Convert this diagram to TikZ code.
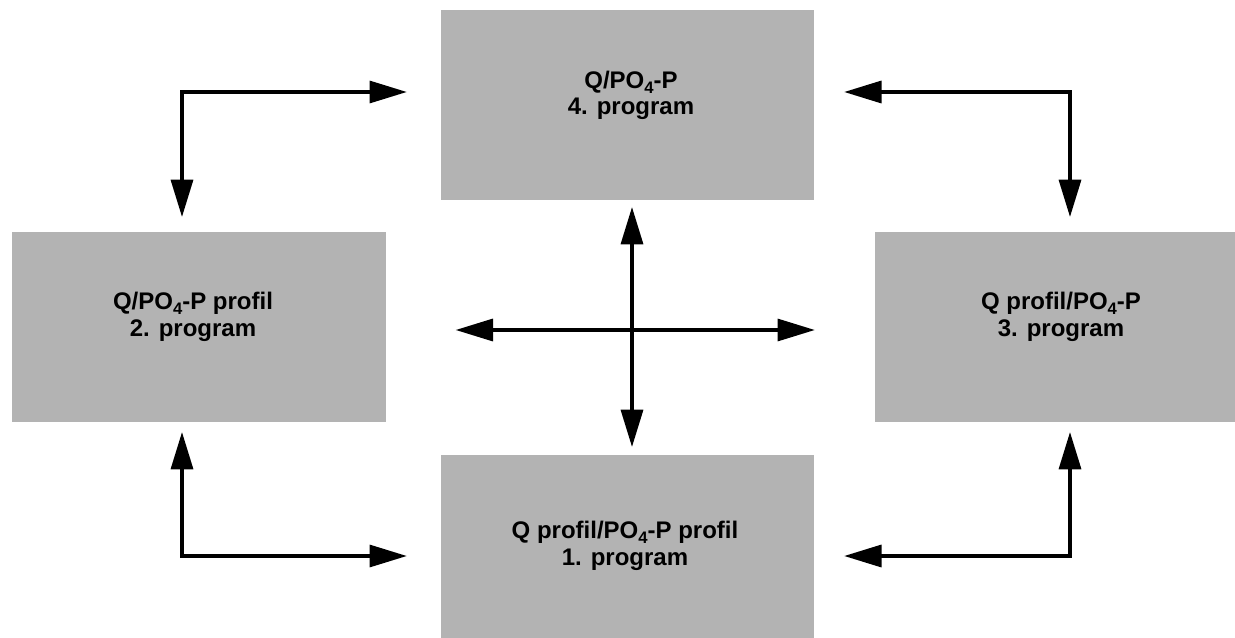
\documentclass[tikz,border=0pt]{standalone}
\usepackage{fontspec}
\setmainfont{Liberation Sans}
\usetikzlibrary{arrows.meta,calc}
\definecolor{boxgray}{RGB}{179,179,179}
% lowered subscript digit for PO4
\newcommand{\subfour}{\raisebox{-3.6pt}{\fontsize{12.5}{12.5}\selectfont 4}}
\begin{document}
\begin{tikzpicture}[x=0.75pt,y=-0.75pt,
  progbox/.style={fill=boxgray, draw=none, inner sep=0pt, outer sep=0pt,
    minimum width=280pt, minimum height=142.5pt},
  progtext/.style={anchor=base, align=center, inner sep=0pt,
    font=\bfseries\fontsize{18}{19.8}\selectfont},
  conn/.style={line width=2.5pt, >={Triangle[length=28pt,width=16.5pt]}, <->}]
\useasboundingbox (0,0) rectangle (1235,638);
\clip (0,0) rectangle (1235,638);

% program boxes
\node[progbox] (t) at (627.5,105) {};
\node[progbox] (l) at (199,327) {};
\node[progbox] (r) at (1061.5,327) {};
\node[progbox] (b) at (627.5,550) {};

% box captions (anchored on the baseline of the second line)
\node[progtext] (tt) at (631,115) {Q/PO\subfour-P\\4. program};
\node[progtext] (lt) at (193,336) {Q/PO\subfour-P profil\\2. program};
\node[progtext] (rt) at (1061,336) {Q profil/PO\subfour-P\\3. program};
\node[progtext] (bt) at (625,565) {Q profil/PO\subfour-P profil\\1. program};

% corner points of the elbow connectors and the centre of the cross
\coordinate (ctl) at (182,92);
\coordinate (ctr) at (1070,92);
\coordinate (cbl) at (182,556);
\coordinate (cbr) at (1070,556);
\coordinate (cx) at (632,330);

% elbow connectors
\draw[conn, shorten <=11.25pt, shorten >=25.5pt] (ctl |- l.north) -- (ctl) -- (ctl -| t.west);
\draw[conn, shorten <=22.5pt, shorten >=11.25pt] (ctr -| t.east) -- (ctr) -- (ctr |- r.north);
\draw[conn, shorten <=7.5pt, shorten >=25.5pt] (cbl |- l.south) -- (cbl) -- (cbl -| b.west);
\draw[conn, shorten <=22.5pt, shorten >=7.5pt] (cbr -| b.east) -- (cbr) -- (cbr |- r.south);

% central cross
\draw[conn, shorten <=5.25pt, shorten >=6pt] (cx |- t.south) -- (cx |- b.north);
\draw[conn, shorten <=52.5pt, shorten >=45pt] (cx -| l.east) -- (cx -| r.west);
\end{tikzpicture}
\end{document}
